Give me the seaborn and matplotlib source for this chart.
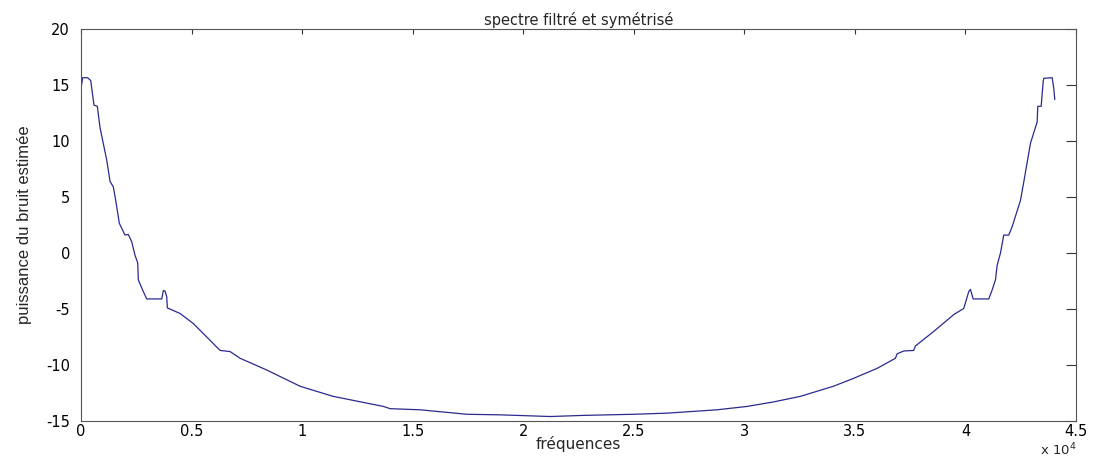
import matplotlib
matplotlib.use("Agg")
import matplotlib.pyplot as plt
import matplotlib.ticker as mticker
import seaborn as sns
import pandas as pd

# frequency (Hz) and estimated noise power
freq_left = [0, 77, 300, 439, 588, 738, 860, 1163, 1312, 1462, 1570, 1733, 1991, 2140,
             2294, 2443, 2566, 2593, 2819, 2973, 3652, 3724, 3800, 3878, 3905, 4480,
             5081, 5688, 6290, 6742, 7195, 8403, 9910]
power_left = [14.7, 15.65, 15.65, 15.4, 13.2, 13.1, 11.2, 8.3, 6.4, 5.9, 4.7, 2.65, 1.6, 1.65,
              1.0, -0.2, -0.9, -2.4, -3.45, -4.1, -4.1, -3.35, -3.4, -3.9, -4.9, -5.4,
              -6.3, -7.5, -8.7, -8.8, -9.4, -10.45, -11.9]

freq_mid = [11403, 13679, 13982, 15339, 17453, 18959, 21222, 22715, 24977, 26502,
            28765, 30122, 31312]
power_mid = [-12.8, -13.7, -13.9, -14.0, -14.4, -14.45, -14.6, -14.5, -14.4, -14.3,
             -14.0, -13.7, -13.3]

freq_right = [32534, 34027, 34932, 36005, 36833, 36910, 37208, 37661, 37738, 38566,
              39471, 39923, 40149, 40226, 40348, 41054, 41208, 41357, 41434, 41584,
              41733, 41959, 42113, 42489, 42639, 42941, 43244, 43271, 43425, 43516,
              43543, 43923, 43995, 44041]
power_right = [-12.8, -11.9, -11.2, -10.3, -9.4, -9.0, -8.75, -8.7, -8.3, -7.0,
               -5.5, -4.95, -3.45, -3.25, -4.1, -4.1, -3.3, -2.4, -1.1, 0.0,
               1.6, 1.6, 2.35, 4.7, 6.35, 9.8, 11.7, 13.1, 13.1, 15.3,
               15.6, 15.65, 14.7, 13.7]

x_ticks = [0, 5000, 10000, 15000, 20000, 25000, 30000, 35000, 40000, 45000]
y_ticks = [-15, -10, -5, 0, 5, 10, 15, 20]

title = "spectre filtré et symétrisé"
xlabel = "fréquences"
ylabel = "puissance du bruit estimée"

df = pd.DataFrame({
    "freq": freq_left + freq_mid + freq_right,
    "power": power_left + power_mid + power_right,
})

sns.set_style("white")
plt.rcParams["font.family"] = ["DejaVu Sans"]
plt.rcParams["axes.unicode_minus"] = False

fig = plt.figure(figsize=(10.95, 4.57), dpi=100)
ax = fig.add_axes([81 / 1095, 1 - 421 / 457, (1076 - 81) / 1095, (421 - 29) / 457])

sns.lineplot(data=df, x="freq", y="power", ax=ax, color="#2a2a90", linewidth=0.9,
             sort=False)

ax.set_xlim(0, 45000)
ax.set_ylim(-15, 20)
ax.set_xticks(x_ticks)
ax.set_yticks(y_ticks)
ax.xaxis.set_major_formatter(mticker.FuncFormatter(lambda v, p: f"{v / 1e4:g}"))

ax.tick_params(axis="both", direction="in", top=True, right=True, labelsize=10.5,
               colors="#333333", width=0.8)
ax.tick_params(axis="y", length=7, pad=8)
ax.tick_params(axis="x", length=3.5, pad=2)
for lab in ax.get_xticklabels() + ax.get_yticklabels():
    lab.set_color("black")

for s in ax.spines.values():
    s.set_color("#555555")
    s.set_linewidth(0.8)

ax.set_title(title, fontsize=10.5, pad=3)
ax.set_xlabel(xlabel, fontsize=11, labelpad=-2)
ax.set_ylabel(ylabel, fontsize=12, labelpad=10,
              family=["Liberation Sans Narrow", "Liberation Sans", "DejaVu Sans"])
ax.text(1.0, -0.074, r"x 10$^4$", transform=ax.transAxes, ha="right", va="center",
        fontsize=9.5)

fig.savefig("out.png", dpi=100, facecolor="white")
